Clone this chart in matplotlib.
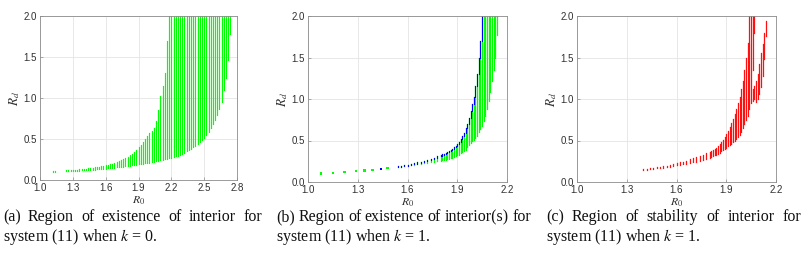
import numpy as np
import matplotlib
matplotlib.use("Agg")
import matplotlib.pyplot as plt

plt.rcParams['mathtext.fontset'] = 'stix'
plt.rcParams['font.family'] = ['Liberation Sans', 'DejaVu Sans']

# ---------------- Panel (a): k = 0 ----------------
R0_a = [1.12, 1.14, 1.24, 1.26, 1.28, 1.30, 1.32, 1.34, 1.36, 1.38, 1.40, 1.42, 1.44, 1.46, 1.48,
        1.50, 1.52, 1.54, 1.56, 1.58, 1.60, 1.62, 1.64, 1.66, 1.68, 1.70, 1.72, 1.74, 1.76, 1.78,
        1.80, 1.82, 1.84, 1.86, 1.88, 1.90, 1.92, 1.94, 1.96, 1.98, 2.00, 2.02, 2.04, 2.06, 2.08,
        2.10, 2.12, 2.14, 2.16, 2.18, 2.20, 2.22, 2.24, 2.26, 2.28, 2.30, 2.32, 2.34, 2.36, 2.38,
        2.40, 2.42, 2.44, 2.46, 2.48, 2.50, 2.52, 2.54, 2.56, 2.58, 2.60, 2.62, 2.64, 2.66, 2.68,
        2.70, 2.72, 2.74]
low_a = [0.100, 0.100, 0.108, 0.109, 0.110, 0.111, 0.112, 0.114, 0.115, 0.117, 0.118, 0.120, 0.122, 0.124, 0.126,
         0.128, 0.130, 0.132, 0.134, 0.137, 0.140, 0.142, 0.145, 0.147, 0.150, 0.153, 0.156, 0.159, 0.162, 0.166,
         0.170, 0.173, 0.177, 0.181, 0.185, 0.190, 0.194, 0.198, 0.203, 0.207, 0.212, 0.217, 0.222, 0.228, 0.234,
         0.240, 0.246, 0.252, 0.259, 0.266, 0.272, 0.279, 0.288, 0.297, 0.308, 0.320, 0.334, 0.349, 0.364, 0.381,
         0.400, 0.420, 0.441, 0.463, 0.486, 0.510, 0.545, 0.585, 0.630, 0.680, 0.730, 0.790, 0.860, 0.950, 1.100,
         1.240, 1.460, 1.780]
high_a = [0.112, 0.112, 0.118, 0.120, 0.122, 0.124, 0.126, 0.128, 0.131, 0.134, 0.137, 0.140, 0.144, 0.148, 0.152,
          0.156, 0.160, 0.164, 0.168, 0.173, 0.180, 0.185, 0.190, 0.200, 0.210, 0.220, 0.230, 0.240, 0.255, 0.270,
          0.285, 0.300, 0.320, 0.345, 0.370, 0.400, 0.430, 0.465, 0.500, 0.535, 0.570, 0.600, 0.640, 0.720, 0.850,
          1.030, 1.150, 1.300, 1.700, 2.000, 2.000, 2.000, 2.000, 2.000, 2.000, 2.000, 2.000, 2.000, 2.000, 2.000,
          2.000, 2.000, 2.000, 2.000, 2.000, 2.000, 2.000, 2.000, 2.000, 2.000, 2.000, 2.000, 2.000, 2.000, 2.000,
          2.000, 2.000, 2.000]

# ---------------- Panel (b): k = 1, existence ----------------
dots_b_R0 = [1.08, 1.15, 1.22, 1.29, 1.34, 1.39, 1.44, 1.48]
dots_b_Rd = [0.100, 0.110, 0.120, 0.130, 0.138, 0.148, 0.160, 0.168]
dots_b_col = ['#00ff00', '#00ff00', '#00ff00', '#00ff00', '#00ff00', '#00ff00', '#0000ff', '#00ff00']

R0_b = [1.52, 1.54, 1.56, 1.58, 1.60, 1.62, 1.64, 1.66, 1.68, 1.70, 1.72, 1.74, 1.76, 1.78, 1.80,
        1.81, 1.82, 1.83, 1.84, 1.85, 1.86, 1.87, 1.88, 1.89, 1.90, 1.91, 1.92, 1.93, 1.94, 1.95,
        1.96, 1.97, 1.98, 1.99, 2.00, 2.01, 2.02, 2.03, 2.04, 2.05, 2.06, 2.07, 2.08, 2.09, 2.10,
        2.11, 2.12, 2.13, 2.14]
low_b = [0.175, 0.180, 0.186, 0.192, 0.198, 0.203, 0.208, 0.213, 0.219, 0.225, 0.231, 0.237, 0.244, 0.251, 0.258,
         0.262, 0.266, 0.270, 0.275, 0.280, 0.286, 0.292, 0.300, 0.310, 0.320, 0.330, 0.345, 0.360, 0.375, 0.390,
         0.420, 0.440, 0.465, 0.490, 0.510, 0.535, 0.560, 0.600, 0.640, 0.680, 0.730, 0.800, 0.880, 0.980, 1.090,
         1.220, 1.350, 1.500, 1.770]
high_b = [0.180, 0.187, 0.194, 0.200, 0.210, 0.218, 0.226, 0.235, 0.245, 0.255, 0.267, 0.280, 0.293, 0.308, 0.325,
          0.333, 0.342, 0.352, 0.362, 0.373, 0.386, 0.400, 0.418, 0.438, 0.460, 0.485, 0.515, 0.550, 0.590, 0.650,
          0.700, 0.770, 0.850, 0.940, 1.030, 1.160, 1.300, 1.490, 1.700, 2.000, 2.000, 2.000, 2.000, 2.000, 2.000,
          2.000, 2.000, 2.000, 2.000]

# ---------------- Panel (c): k = 1, stability ----------------
R0_c = [1.40, 1.42, 1.44, 1.46, 1.48, 1.50, 1.52, 1.54, 1.56, 1.58, 1.60, 1.62, 1.64, 1.66, 1.68,
        1.70, 1.72, 1.74, 1.76, 1.78, 1.80, 1.81, 1.82, 1.83, 1.84, 1.85, 1.86, 1.87, 1.88, 1.89,
        1.90, 1.91, 1.92, 1.93, 1.94, 1.95, 1.96, 1.97, 1.98, 1.99, 2.00, 2.01, 2.02, 2.03, 2.04,
        2.05, 2.06, 2.06, 2.07, 2.07, 2.08, 2.09, 2.10, 2.11, 2.12, 2.13, 2.14]
low_c = [0.145, 0.150, 0.154, 0.158, 0.163, 0.168, 0.172, 0.177, 0.182, 0.188, 0.205, 0.210, 0.216, 0.222, 0.230,
         0.238, 0.246, 0.255, 0.265, 0.280, 0.295, 0.300, 0.310, 0.320, 0.330, 0.340, 0.355, 0.370, 0.385, 0.400,
         0.415, 0.430, 0.445, 0.460, 0.480, 0.500, 0.520, 0.540, 0.570, 0.600, 0.650, 0.700, 0.750, 0.800, 0.880,
         0.950, 0.980, 1.350, 1.000, 1.800, 0.960, 1.000, 1.060, 1.140, 1.280, 1.480, 1.760]
high_c = [0.155, 0.160, 0.165, 0.170, 0.175, 0.182, 0.190, 0.198, 0.206, 0.214, 0.225, 0.235, 0.245, 0.258, 0.272,
          0.290, 0.300, 0.315, 0.330, 0.345, 0.360, 0.370, 0.380, 0.395, 0.410, 0.430, 0.455, 0.480, 0.510, 0.545,
          0.580, 0.620, 0.660, 0.710, 0.760, 0.820, 0.880, 0.950, 1.030, 1.120, 1.220, 1.350, 1.500, 1.680, 2.000,
          2.000, 1.120, 2.000, 1.160, 2.000, 1.220, 1.300, 1.420, 1.550, 1.660, 1.800, 1.940]

xticks_a = [1.0, 1.3, 1.6, 1.9, 2.2, 2.5, 2.8]
xticks_bc = [1.0, 1.3, 1.6, 1.9, 2.2]
yticks = [0.0, 0.5, 1.0, 1.5, 2.0]

GREEN = '#00ff00'
BLUE = '#0000ff'
RED = '#ff1010'

W, H = 805, 266
fig = plt.figure(figsize=(W / 100, H / 100), dpi=100)


def add_axes(l, r, t, b):
    return fig.add_axes([l / W, 1 - b / H, (r - l) / W, (b - t) / H])


axa = add_axes(40, 237, 16, 180)
axb = add_axes(308, 507, 16, 182)
axc = add_axes(577, 776, 16, 182)


def style(ax, xlim, xt):
    ax.set_xlim(*xlim)
    ax.set_ylim(0, 2.0)
    ax.set_xticks(xt)
    ax.set_yticks(yticks)
    ax.set_xticklabels(['%.1f' % v for v in xt])
    ax.set_yticklabels(['%.1f' % v for v in yticks])
    ax.grid(True, color='#e4e4e4', linewidth=0.6)
    ax.set_axisbelow(True)
    ax.tick_params(direction='in', length=2.5, width=0.5, colors='#8c8c8c',
                   labelcolor='#303030', labelsize=7, pad=2.5)
    for s in ax.spines.values():
        s.set_color('#8c8c8c')
        s.set_linewidth(0.6)
    ax.set_xlabel('$R_0$', fontsize=8.5, labelpad=0.5, color='#303030')
    ax.set_ylabel('$R_d$', fontsize=9.5, labelpad=0.5, color='#303030')


# panel a
axa.vlines(R0_a, low_a, high_a, colors=GREEN, linewidth=0.85, capstyle='projecting')
style(axa, (1.0, 2.8), xticks_a)

# panel b
axb.vlines(R0_b, low_b, high_b, colors=GREEN, linewidth=0.9, capstyle='projecting')
blue_lo = []
prev = None
for lo, hi in zip(low_b, high_b):
    b0 = hi - 0.015 if prev is None else min(prev, hi - 0.015)
    blue_lo.append(max(lo, b0))
    prev = hi
keep = [h < 2.0 or r == 2.05 for r, h in zip(R0_b, high_b)]
blue_R0 = [r for r, k in zip(R0_b, keep) if k]
blue_hi = [h for h, k in zip(high_b, keep) if k]
blue_lo = [b for b, k in zip(blue_lo, keep) if k]
axb.vlines(blue_R0, blue_lo, blue_hi, colors=BLUE, linewidth=0.8, capstyle='projecting')
axb.scatter(dots_b_R0, dots_b_Rd, s=3, c=dots_b_col, marker='s', linewidths=0)
style(axb, (1.0, 2.2), xticks_bc)

# panel c
axc.vlines(R0_c, low_c, high_c, colors=RED, linewidth=0.9, capstyle='projecting')
style(axc, (1.0, 2.2), xticks_bc)

# captions (justified first line)
renderer = fig.canvas.get_renderer()
cap_kw = dict(family=['Liberation Serif', 'DejaVu Serif'], fontsize=11.5, color='#111111', va='center')


def justified(text, x0, x1, y):
    words = text.split(' ')
    objs = [fig.text(0, 1 - y / H, w, ha='left', **cap_kw) for w in words]
    widths = [o.get_window_extent(renderer).width for o in objs]
    gap = (x1 - x0 - sum(widths)) / (len(words) - 1)
    x = x0
    for o, w in zip(objs, widths):
        o.set_x(x / W)
        x += w + gap


justified('(a) Region of existence of interior for', 3, 262, 217)
justified('(b) Region of existence of interior(s) for', 276, 531, 217)
justified('(c) Region of stability of interior for', 546, 801, 217)
fig.text(3 / W, 1 - 237 / H, 'system (11) when $k$ = 0.', ha='left', **cap_kw)
fig.text(276 / W, 1 - 237 / H, 'system (11) when $k$ = 1.', ha='left', **cap_kw)
fig.text(546 / W, 1 - 237 / H, 'system (11) when $k$ = 1.', ha='left', **cap_kw)

fig.savefig('out.png', dpi=100)
